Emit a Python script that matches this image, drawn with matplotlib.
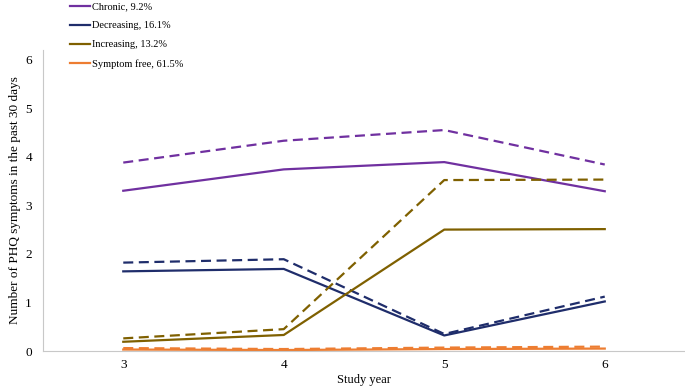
import matplotlib.pyplot as plt

plt.rcParams['font.family'] = ['Liberation Serif', 'DejaVu Serif']

years = [3, 4, 5, 6]
grupos = ['Chronic, 9.2%', 'Decreasing, 16.1%', 'Increasing, 13.2%', 'Symptom free, 61.5%']
cores = ['#7030A0', '#1F2D6B', '#7F6000', '#ED7D31']

# linha cheia e tracejada de cada grupo
cheia = [
    [3.30, 3.74, 3.89, 3.29],
    [1.64, 1.69, 0.32, 1.02],
    [0.19, 0.33, 2.50, 2.51],
    [0.03, 0.02, 0.04, 0.05],
]
tracejada = [
    [3.88, 4.33, 4.55, 3.84],
    [1.82, 1.89, 0.35, 1.12],
    [0.26, 0.45, 3.52, 3.53],
    [0.06, 0.04, 0.07, 0.09],
]

fig = plt.figure(figsize=(6.85, 3.9), dpi=100)
ax = fig.add_axes([0.0628, 0.1, 0.9372, 0.772])

for g, c, s, d in zip(grupos, cores, cheia, tracejada):
    ax.plot(years, s, color=c, lw=1.6, label=g)
    ax.plot(years, d, color=c, lw=1.6, ls=(0, (4.5, 2.5)))

ax.set_xlim(2.5, 6.5)
ax.set_ylim(0, 6.2)
ax.set_xticks(years)
ax.set_yticks(range(7))
ax.tick_params(length=0, labelsize=9.5)
ax.tick_params(axis='x', pad=6)
ax.tick_params(axis='y', pad=8)
for lado in ['top', 'right']:
    ax.spines[lado].set_visible(False)
for lado in ['left', 'bottom']:
    ax.spines[lado].set_color('#C8C8C8')

ax.set_xlabel('Study year', fontsize=9, va='center')
ax.xaxis.set_label_coords(0.5, -0.095)
ax.set_ylabel('Number of PHQ symptoms in the past 30 days', fontsize=9.5, va='center')
ax.yaxis.set_label_coords(-0.044, 0.5)

fig.legend(loc='upper left', bbox_to_anchor=(0.102, 0.995), frameon=False,
           borderpad=0, borderaxespad=0,
           fontsize=7.5, handlelength=1.9, handletextpad=0.2, labelspacing=0.93)

fig.savefig('out.png', dpi=100)
